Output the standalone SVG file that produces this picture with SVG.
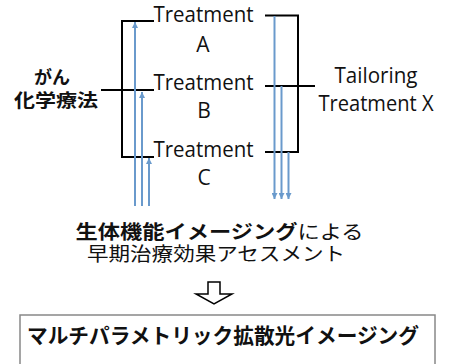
<svg xmlns="http://www.w3.org/2000/svg" width="451" height="364" viewBox="0 0 451 364">
<style>
.bk{stroke:#000;stroke-width:2;fill:none}
.bl{stroke:#6a9acc;stroke-width:2;fill:none}
.lat{font-family:"Open Sans","Liberation Sans",sans-serif;font-size:21px;fill:#111}
.cjk{font-family:"Noto Sans CJK JP","Noto Sans",sans-serif;fill:#111}
.b{font-weight:bold}
</style>
<defs>
<marker id="ah" viewBox="0 0 6 6" refX="6" refY="3" markerWidth="6" markerHeight="6" markerUnits="userSpaceOnUse" orient="auto">
<path d="M0,0 L6,3 L0,6 Z" fill="#6a9acc"/>
</marker>
</defs>
<rect width="451" height="364" fill="#fff"/>
<g id="connectors">
<path class="bk" d="M154,21 H122 V157 H154"/>
<path class="bk" d="M101,90 H154"/>
<path class="bk" d="M265,15.5 H298 V152 H265"/>
<path class="bk" d="M265,86 H315"/>
<line class="bl" x1="135" y1="206" x2="135" y2="22" marker-end="url(#ah)"/>
<line class="bl" x1="142" y1="206" x2="142" y2="92" marker-end="url(#ah)"/>
<line class="bl" x1="149" y1="206" x2="149" y2="158" marker-end="url(#ah)"/>
<line class="bl" x1="274.5" y1="16" x2="274.5" y2="199" marker-end="url(#ah)"/>
<line class="bl" x1="281.5" y1="86" x2="281.5" y2="199" marker-end="url(#ah)"/>
<line class="bl" x1="288.5" y1="152" x2="288.5" y2="199" marker-end="url(#ah)"/>
<path d="M208,282 H220 V294 H232 L214,304 L196,294 H208 Z" fill="#fff" stroke="#000" stroke-width="1.5"/>
</g>
<g id="chemo">
<text class="cjk b" x="52" y="84" text-anchor="middle" font-size="18" textLength="36" lengthAdjust="spacingAndGlyphs">がん</text>
<text class="cjk b" x="56" y="107" text-anchor="middle" font-size="18" textLength="84" lengthAdjust="spacingAndGlyphs">化学療法</text>
</g>
<g id="treatmentA">
<text class="lat" x="153.5" y="22" textLength="100" lengthAdjust="spacingAndGlyphs">Treatment</text>
<text class="lat" x="203" y="52" text-anchor="middle">A</text>
</g>
<g id="treatmentB">
<text class="lat" x="153.5" y="90" textLength="100" lengthAdjust="spacingAndGlyphs">Treatment</text>
<text class="lat" x="204" y="118" text-anchor="middle">B</text>
</g>
<g id="treatmentC">
<text class="lat" x="153.5" y="157" textLength="100" lengthAdjust="spacingAndGlyphs">Treatment</text>
<text class="lat" x="204" y="185" text-anchor="middle">C</text>
</g>
<g id="tailoring">
<text class="lat" x="376" y="83" text-anchor="middle" textLength="83" lengthAdjust="spacingAndGlyphs">Tailoring</text>
<text class="lat" x="376" y="111" text-anchor="middle" textLength="115" lengthAdjust="spacingAndGlyphs">Treatment X</text>
</g>
<g id="assessment">
<text class="cjk" x="219.5" y="238.5" text-anchor="middle" font-size="19" textLength="288" lengthAdjust="spacingAndGlyphs"><tspan class="b">生体機能イメージング</tspan>による</text>
<text class="cjk" x="216" y="260.5" text-anchor="middle" font-size="19" textLength="258" lengthAdjust="spacingAndGlyphs">早期治療効果アセスメント</text>
</g>
<g id="imaging">
<rect x="20" y="315" width="415" height="60" fill="#fff" stroke="#888" stroke-width="1.5"/>
<text class="cjk b" x="223" y="343" text-anchor="middle" font-size="21" textLength="392" lengthAdjust="spacingAndGlyphs">マルチパラメトリック拡散光イメージング</text>
</g>
</svg>
